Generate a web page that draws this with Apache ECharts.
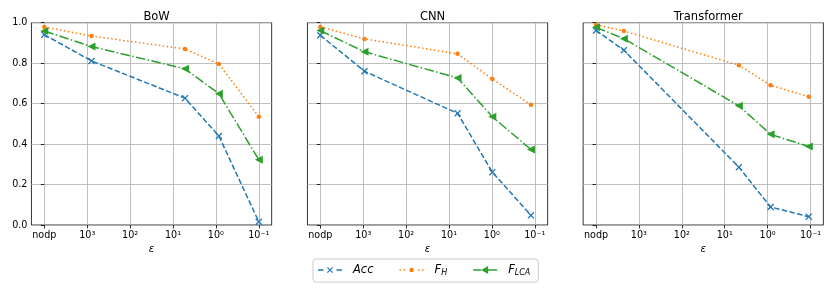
<!DOCTYPE html>
<html><head><meta charset="utf-8">
<script src="https://cdn.jsdelivr.net/npm/echarts@6/dist/echarts.min.js"></script>
<style>html,body{margin:0;padding:0;background:#fff}#c{width:831px;height:296px}</style>
</head><body><div id="c"></div>
<script>
// ---- data ----
const models = ['BoW', 'CNN', 'Transformer'];
const tickPositions = [0, 1, 2, 3, 4, 5];
const tickLabels = ['nodp', '10³', '10²', '10¹', '10⁰', '10⁻¹'];
const seriesNames = ['Acc', 'F_H', 'F_LCA'];

const bowX = [0, 1.1, 3.28, 4.07, 5.0];
const bowAcc = [0.941, 0.811, 0.627, 0.440, 0.016];
const bowFH = [0.979, 0.934, 0.870, 0.796, 0.535];
const bowFLCA = [0.959, 0.882, 0.772, 0.649, 0.323];

const cnnX = [0, 1.03, 3.2, 4.01, 4.91];
const cnnAcc = [0.938, 0.760, 0.552, 0.261, 0.048];
const cnnFH = [0.979, 0.920, 0.846, 0.722, 0.594];
const cnnFLCA = [0.961, 0.856, 0.727, 0.535, 0.373];

const trX = [0, 0.65, 3.33, 4.07, 4.96];
const trAcc = [0.962, 0.864, 0.286, 0.089, 0.041];
const trFH = [0.990, 0.959, 0.790, 0.691, 0.634];
const trFLCA = [0.977, 0.921, 0.589, 0.448, 0.388];

const panelX = [bowX, cnnX, trX];
const panelY = [[bowAcc, bowFH, bowFLCA], [cnnAcc, cnnFH, cnnFLCA], [trAcc, trFH, trFLCA]];

// ---- styles ----
const FONT = 'DejaVu Sans';
const colors = ['#1f77b4', '#ff7f0e', '#2ca02c'];
const dashes = [[5.5, 2.4], [1.5, 2.5], [9.6, 2.4, 1.5, 2.4]];
const symbols = [
  'path://M0,1.3 L1.3,0 L5,3.7 L8.7,0 L10,1.3 L6.3,5 L10,8.7 L8.7,10 L5,6.3 L1.3,10 L0,8.7 L3.7,5 Z',
  'circle',
  'path://M0,5 L10,0 L10,10 Z'
];
const symbolSizes = [7, 4.5, 8];
// legend icons: line segments + marker, in a 24x10 box
const legendIcons = [
  'path://M0,4.3 L5.5,4.3 L5.5,5.7 L0,5.7 Z ' +
  'M9,2.8 L9.8,2 L12,4.2 L14.2,2 L15,2.8 L12.8,5 L15,7.2 L14.2,8 L12,5.8 L9.8,8 L9,7.2 L11.2,5 Z ' +
  'M18.5,4.3 L24,4.3 L24,5.7 L18.5,5.7 Z',
  'path://M0,4.3 L1.5,4.3 L1.5,5.7 L0,5.7 Z M4,4.3 L5.5,4.3 L5.5,5.7 L4,5.7 Z ' +
  'M9.8,5 A2.2,2.2 0 1 1 14.2,5 A2.2,2.2 0 1 1 9.8,5 Z ' +
  'M18.5,4.3 L20,4.3 L20,5.7 L18.5,5.7 Z M22.5,4.3 L24,4.3 L24,5.7 L22.5,5.7 Z',
  'path://M0,4.3 L8,4.3 L8,5.7 L0,5.7 Z M8,5 L15,1 L15,9 Z M15,4.3 L24,4.3 L24,5.7 L15,5.7 Z'
];
const nodpPx = [44.3, 320.3, 596];
const unit = 42.9;
const xMin = -0.3, xMax = 5.3;
const gridTop = 22.7, gridHeight = 202.3;

const grids = [], xAxes = [], yAxes = [], titles = [], series = [];
models.forEach((m, i) => {
  const gl = nodpPx[i] + xMin * unit;
  const gw = (xMax - xMin) * unit;
  grids.push({left: gl, width: gw, top: gridTop, height: gridHeight, show: true, borderColor: '#000', borderWidth: 0.8, backgroundColor: 'transparent'});
  titles.push({text: m, left: gl + gw / 2, top: 6, textAlign: 'center',
    textStyle: {fontFamily: FONT, fontSize: 11.5, fontWeight: 'normal', color: '#000'}});
  xAxes.push({type: 'value', gridIndex: i, min: xMin, max: xMax,
    name: 'ε', nameLocation: 'middle', nameGap: 9,
    nameTextStyle: {fontFamily: FONT, fontSize: 10, fontStyle: 'italic', color: '#000'},
    axisLine: {show: false},
    axisTick: {show: true, customValues: tickPositions, length: 3.5, lineStyle: {color: '#000', width: 0.8}},
    axisLabel: {customValues: tickPositions, margin: 5, fontFamily: FONT, fontSize: 9.6, color: '#000',
      formatter: v => tickLabels[tickPositions.indexOf(Math.round(v))]},
    splitLine: {show: true, lineStyle: {color: '#b0b0b0', width: 0.8}}
  });
  yAxes.push({type: 'value', gridIndex: i, min: 0, max: 1, interval: 0.2,
    axisLine: {show: false},
    axisTick: {show: true, length: 3.5, lineStyle: {color: '#000', width: 0.8}},
    axisLabel: {show: i === 0, margin: 4, fontFamily: FONT, fontSize: 9.6, color: '#000',
      formatter: v => v.toFixed(1)},
    splitLine: {show: true, lineStyle: {color: '#b0b0b0', width: 0.8}}
  });
  seriesNames.forEach((s, k) => {
    series.push({
      name: s, type: 'line', xAxisIndex: i, yAxisIndex: i,
      data: panelX[i].map((x, j) => [x, panelY[i][k][j]]),
      symbol: symbols[k], symbolSize: symbolSizes[k], symbolKeepAspect: true,
      showAllSymbol: true,
      itemStyle: {color: colors[k]},
      lineStyle: {color: colors[k], width: 1.5, type: dashes[k]},
      emphasis: {disabled: true},
      z: 3 + k
    });
  });
});

const chart = echarts.init(document.getElementById('c'), null, {renderer: 'canvas'});
chart.setOption({
  animation: false,
  backgroundColor: '#fff',
  title: titles,
  grid: grids,
  xAxis: xAxes,
  yAxis: yAxes,
  legend: {
    data: seriesNames.map((n, k) => ({name: n, icon: legendIcons[k]})),
    left: 313, top: 259,
    padding: [5, 8, 5, 5],
    itemGap: 26, itemWidth: 24, itemHeight: 10,
    borderColor: '#cccccc', borderWidth: 1, borderRadius: 3,
    formatter: n => ({Acc: '{i|Acc}', F_H: '{i|F}{s|H}', F_LCA: '{i|F}{s|LCA}'})[n],
    textStyle: {
      fontFamily: FONT, fontSize: 11.5, color: '#000', padding: [0, 0, 0, 6],
      rich: {
        i: {fontFamily: FONT, fontStyle: 'italic', fontSize: 11.5, color: '#000'},
        s: {fontFamily: FONT, fontStyle: 'italic', fontSize: 8, color: '#000', padding: [6, 0, 0, 0]}
      }
    }
  },
  series
});
</script></body></html>
